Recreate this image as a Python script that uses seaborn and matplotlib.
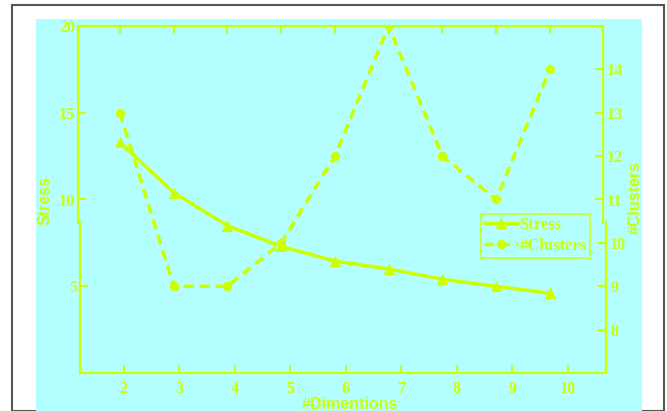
import matplotlib
matplotlib.use("Agg")
import matplotlib.pyplot as plt
import seaborn as sns
from matplotlib.patches import Rectangle

dims = [2, 3, 4, 5, 6, 7, 8, 9, 10]
stress = [13.3, 10.4, 8.5, 7.3, 6.45, 6.0, 5.4, 5.0, 4.6]
clusters = [13, 9, 9, 10, 12, 15, 12, 11, 14]

yel = "#ccff00"
cyan = "#b3ffff"
W, H = 667, 411

plt.rcParams["font.family"] = ["Liberation Serif", "DejaVu Serif"]
plt.rcParams["font.weight"] = "bold"

fig = plt.figure(figsize=(W / 100, H / 100), dpi=100)
fig.patches.append(Rectangle((12 / W, 0), 652 / W, 1 - 5 / H, transform=fig.transFigure,
                             fill=False, edgecolor="#555555", lw=1.5, zorder=-20))
fig.patches.append(Rectangle((36 / W, 0), 606 / W, 1 - 19 / H, transform=fig.transFigure,
                             facecolor=cyan, edgecolor="none", zorder=-20))

def fx(px):
    return px / W

def fy(py):
    return 1 - py / H

# main axes (data lives here)
ax1 = fig.add_axes([fx(78), fy(373), 525 / W, 347 / H])
ax1.set_facecolor("none")
ax2 = ax1.twinx()
ax2.set_facecolor("none")

# lower offset frame
ax3 = fig.add_axes([fx(80), fy(373), 526 / W, 151 / H], zorder=-1)
ax3.set_facecolor("none")
ax3r = ax3.twinx()
ax3r.set_facecolor("none")

sns.lineplot(x=dims, y=stress, ax=ax1, color=yel, lw=2.5, marker="^", markersize=7,
             markeredgecolor=yel, label="Stress", legend=False)
sns.lineplot(x=dims, y=clusters, ax=ax2, color=yel, lw=2.5, marker="o", markersize=6,
             markeredgecolor=yel, dashes=False, label="#Clusters", legend=False)
ax2.lines[0].set_linestyle((0, (2.8, 1.8)))

ax1.set_xlim(1.22, 10.99)
ax1.set_ylim(0, 20)
ax2.set_ylim(7, 15)
ax3.set_xlim(1.21, 10.69)
ax3.set_ylim(0, 151 / 17.35)
ax3r.set_ylim(7, 7 + 151 / 43.4)

for a in (ax1, ax2, ax3, ax3r):
    for s in a.spines.values():
        s.set_color(yel)
        s.set_linewidth(1.6)
    a.tick_params(colors=yel, direction="in", length=6, width=1.5, labelsize=11.5)
    a.set_xlabel("")
    a.set_ylabel("")

ax1.spines["bottom"].set_visible(False)
ax1.spines["right"].set_visible(False)
ax1.spines["left"].set_bounds(8.65, 20)
ax1.set_yticks([10, 15, 20])
ax1.set_xticks(dims)
ax1.tick_params(axis="x", bottom=False, labelbottom=False, top=True)
ax1.tick_params(axis="y", pad=2)

for k in ("left", "top", "bottom"):
    ax2.spines[k].set_visible(False)
ax2.spines["right"].set_bounds(10.46, 15)
ax2.set_yticks([11, 12, 13, 14])
ax2.tick_params(axis="y", pad=3)

ax3.spines["top"].set_visible(False)
ax3.set_yticks([5])
ax3.set_xticks(dims)
ax3.tick_params(axis="x", pad=6)
ax3.tick_params(axis="y", pad=2)
for k in ("left", "top", "bottom", "right"):
    ax3r.spines[k].set_visible(False)
ax3r.set_yticks([8, 9, 10])
ax3r.tick_params(axis="y", pad=3)

h1, l1 = ax1.get_legend_handles_labels()
h2, l2 = ax2.get_legend_handles_labels()
leg = ax2.legend(h1 + h2, l1 + l2, loc="upper left", bbox_to_anchor=(fx(481), fy(214)),
                 bbox_transform=fig.transFigure, fancybox=False, frameon=True,
                 prop={"size": 12, "weight": "bold"}, handlelength=2.0,
                 handletextpad=0.1, borderpad=0.2, labelspacing=0.3, borderaxespad=0)
leg.get_frame().set_edgecolor(yel)
leg.get_frame().set_linewidth(1.3)
leg.get_frame().set_facecolor(cyan)
for t in leg.get_texts():
    t.set_color(yel)

lab = dict(color=yel, fontsize=11.5, weight="bold", family=["Liberation Sans", "DejaVu Sans"])
fig.text(fx(45), fy(200), "Stress", rotation=90, ha="center", va="center", **lab)
fig.text(fx(635), fy(197), "#Clusters", rotation=90, ha="center", va="center", **lab)
fig.text(fx(350), fy(404.5), "#Dimentions", ha="center", va="center", **lab)

fig.savefig("out.png", dpi=100)
